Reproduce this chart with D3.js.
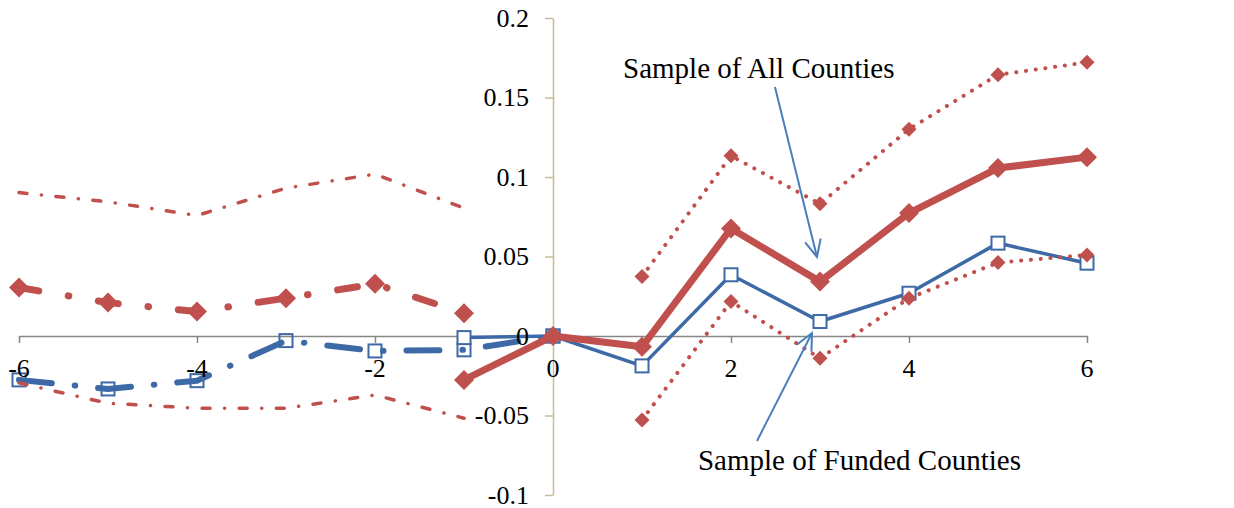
<!DOCTYPE html>
<html>
<head>
<meta charset="utf-8">
<script src="https://cdn.jsdelivr.net/npm/d3@7"></script>
<style>
  html, body { margin: 0; padding: 0; background: #ffffff; }
  svg { display: block; }
</style>
</head>
<body>
<script>
// Event-time axis and tick values
const xTickValues = [-6, -4, -2, 0, 2, 4, 6];
const yTickValues = [-0.1, -0.05, 0, 0.05, 0.1, 0.15, 0.2];
const yTickLabels = ["-0.1", "-0.05", "0", "0.05", "0.1", "0.15", "0.2"];

// All counties: pre-period estimates and confidence band
const preAllX = [-6, -5, -4, -3, -2, -1];
const preAll = [0.0305, 0.0210, 0.0154, 0.0238, 0.0328, 0.0143];
const preAllUpper = [0.0902, 0.0844, 0.0758, 0.0930, 0.1018, 0.0804];
const preAllLower = [-0.0295, -0.0423, -0.0454, -0.0454, -0.0371, -0.0517];

// All counties: post-period estimates and confidence band
const postAllX = [-1, 0, 1, 2, 3, 4, 5, 6];
const postAll = [-0.0276, 0, -0.0068, 0.0676, 0.0342, 0.0773, 0.1056, 0.1125];
const postCiX = [1, 2, 3, 4, 5, 6];
const postAllUpper = [0.0374, 0.1133, 0.0831, 0.1301, 0.1643, 0.1721];
const postAllLower = [-0.0528, 0.0217, -0.0140, 0.0238, 0.0462, 0.0510];

// Funded counties
const preFundedX = [-6, -5, -4, -3, -2, -1, 0];
const preFunded = [-0.0276, -0.0333, -0.0281, -0.0029, -0.0094, -0.0087, 0];
const postFundedX = [-1, 0, 1, 2, 3, 4, 5, 6];
const postFunded = [-0.0010, 0, -0.0188, 0.0385, 0.0091, 0.0269, 0.0584, 0.0458];

// Callout labels: text, anchor point and arrow (from, to) in data units
const callouts = [
  { text: "Sample of All Counties", at: [0.787, 0.1625], from: [2.494, 0.1566], to: [2.966, 0.0497] },
  { text: "Sample of Funded Counties", at: [1.629, -0.0843], from: [2.292, -0.0660], to: [2.910, 0.0019] }
];

const W = 1234, H = 508;
const RED = "#c0504d", BLUE = "#3d6aa6", ARROW = "#4a7ebb";
const SERIF = "'Liberation Serif', 'Times New Roman', 'DejaVu Serif', serif";

const svg = d3.select("body").append("svg")
  .attr("width", W).attr("height", H)
  .attr("viewBox", `0 0 ${W} ${H}`);

const x = d3.scaleLinear().domain([-6, 6]).range([19, 1087]);
const y = d3.scaleLinear().domain([-0.1, 0.2]).range([495, 18]);

const zip = (xs, ys) => xs.map((v, i) => [v, ys[i]]);
const line = d3.line().x(d => x(d[0])).y(d => y(d[1]));

// Horizontal axis through zero
const xAxis = svg.append("g")
  .attr("transform", `translate(0,${y(0)})`)
  .call(d3.axisBottom(x).tickValues(xTickValues).tickFormat("").tickSizeInner(7).tickSizeOuter(0));
xAxis.select(".domain").attr("stroke", "#868686").attr("stroke-width", 1.5);
xAxis.selectAll(".tick line").attr("stroke", "#868686").attr("stroke-width", 1.5);

// Vertical axis through zero
const yAxis = svg.append("g")
  .attr("transform", `translate(${x(0)},0)`)
  .call(d3.axisLeft(y).tickValues(yTickValues).tickFormat("").tickSizeInner(8).tickSizeOuter(0));
yAxis.select(".domain").attr("stroke", "#c4bd97").attr("stroke-width", 1.5);
yAxis.selectAll(".tick line").attr("stroke", "#c4bd97").attr("stroke-width", 1.5);

const plot = svg.append("g");

function drawSeries(pts, opt) {
  plot.append("path")
    .datum(pts)
    .attr("d", line)
    .attr("fill", "none")
    .attr("stroke", opt.color)
    .attr("stroke-width", opt.width)
    .attr("stroke-linecap", "round")
    .attr("stroke-linejoin", "round")
    .attr("stroke-dasharray", opt.dash || null);
  if (opt.marker === "diamond") {
    const r = opt.size;
    plot.append("g").selectAll("path")
      .data(pts).join("path")
      .attr("d", `M0,${-r}L${r},0L0,${r}L${-r},0Z`)
      .attr("transform", d => `translate(${x(d[0])},${y(d[1])})`)
      .attr("fill", opt.color);
  } else if (opt.marker === "square") {
    const s = opt.size;
    plot.append("g").selectAll("rect")
      .data(pts).join("rect")
      .attr("x", d => x(d[0]) - s / 2)
      .attr("y", d => y(d[1]) - s / 2)
      .attr("width", s).attr("height", s)
      .attr("fill", opt.fill)
      .attr("stroke", opt.color)
      .attr("stroke-width", 2);
  }
}

// Funded counties (blue)
drawSeries(zip(preFundedX, preFunded), { color: BLUE, width: 6, dash: "33,23,0.5,23", marker: "square", size: 13, fill: "none" });
drawSeries(zip(postFundedX, postFunded), { color: BLUE, width: 3.5, marker: "square", size: 13, fill: "#ffffff" });

// All counties (red)
drawSeries(zip(preAllX, preAllUpper), { color: RED, width: 3.5, dash: "8,14.5,0.1,14.5" });
drawSeries(zip(preAllX, preAllLower), { color: RED, width: 3.5, dash: "8,14.5,0.1,14.5" });
drawSeries(zip(preAllX, preAll), { color: RED, width: 7, dash: "20,30,0.5,30", marker: "diamond", size: 10 });
drawSeries(zip(postCiX, postAllUpper), { color: RED, width: 4, dash: "0.1,9.7", marker: "diamond", size: 7.5 });
drawSeries(zip(postCiX, postAllLower), { color: RED, width: 4, dash: "0.1,9.7", marker: "diamond", size: 7.5 });
drawSeries(zip(postAllX, postAll), { color: RED, width: 7, marker: "diamond", size: 10 });

// Tick labels
svg.append("g").selectAll("text")
  .data(xTickValues).join("text")
  .attr("x", d => x(d))
  .attr("y", 377)
  .attr("text-anchor", "middle")
  .attr("font-family", SERIF)
  .attr("font-size", 26)
  .attr("fill", "#000")
  .text(d => String(d));

svg.append("g").selectAll("text")
  .data(yTickValues).join("text")
  .attr("x", x(0) - 24)
  .attr("y", d => y(d) + 8.5)
  .attr("text-anchor", "end")
  .attr("font-family", SERIF)
  .attr("font-size", 26)
  .attr("fill", "#000")
  .text((d, i) => yTickLabels[i]);

// Callouts with open arrowheads
svg.append("defs").append("marker")
  .attr("id", "openArrow")
  .attr("viewBox", "-20 -10 24 20")
  .attr("refX", 0).attr("refY", 0)
  .attr("markerWidth", 24).attr("markerHeight", 20)
  .attr("markerUnits", "userSpaceOnUse")
  .attr("orient", "auto")
  .append("path")
  .attr("d", "M-17,-8L0,0L-17,8")
  .attr("fill", "none")
  .attr("stroke", ARROW)
  .attr("stroke-width", 2);

const notes = svg.append("g");
callouts.forEach(c => {
  notes.append("line")
    .attr("x1", x(c.from[0])).attr("y1", y(c.from[1]))
    .attr("x2", x(c.to[0])).attr("y2", y(c.to[1]))
    .attr("stroke", ARROW).attr("stroke-width", 2)
    .attr("marker-end", "url(#openArrow)");
  notes.append("text")
    .attr("x", x(c.at[0])).attr("y", y(c.at[1]))
    .attr("font-family", SERIF)
    .attr("font-size", 29)
    .attr("fill", "#000")
    .text(c.text);
});
</script>
</body>
</html>
